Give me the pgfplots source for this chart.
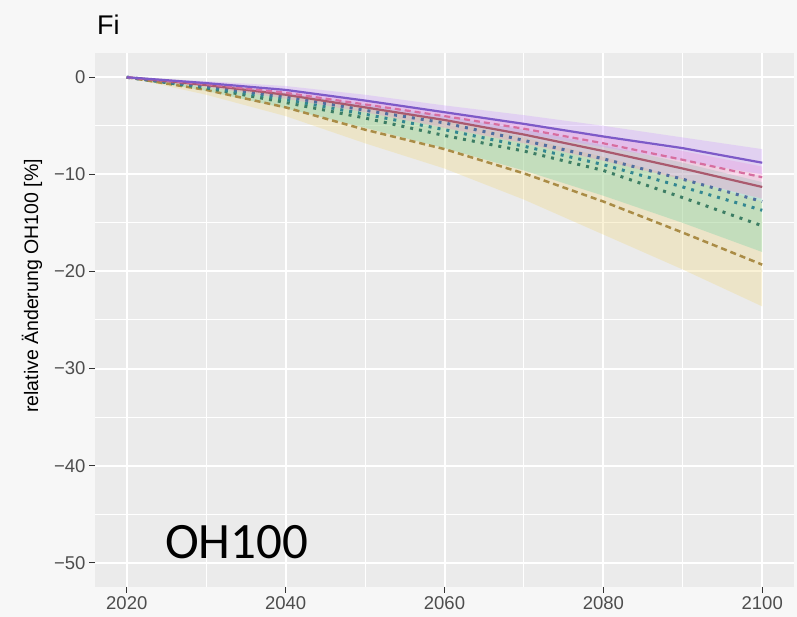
\documentclass[border=0pt]{standalone}
\usepackage{fontspec}
\setmainfont{Liberation Sans}
\newfontfamily\calib{Carlito}
\usepackage{pgfplots}
\pgfplotsset{compat=1.18}
\definecolor{bgcol}{HTML}{F7F7F7}
\definecolor{panel}{HTML}{EBEBEB}
\definecolor{grey30}{HTML}{4D4D4D}
\definecolor{grey20}{HTML}{333333}
\definecolor{cPurple}{RGB}{125,90,200}
\definecolor{cPink}{RGB}{215,110,160}
\definecolor{cRed}{RGB}{170,90,110}
\definecolor{cBlue}{RGB}{80,110,160}
\definecolor{cTeal}{RGB}{50,135,145}
\definecolor{cGreen}{RGB}{60,125,100}
\definecolor{cGold}{RGB}{170,140,70}
\definecolor{fPurple}{RGB}{205,150,255}
\definecolor{fPink}{RGB}{250,140,205}
\definecolor{fGreen}{RGB}{90,205,160}
\definecolor{fYellow}{RGB}{240,215,120}
\begin{document}
\begin{tikzpicture}
\fill[bgcol] (0,0) rectangle (797pt,-617pt);
\path[use as bounding box] (0,0) rectangle (797pt,-617pt);
\begin{axis}[
  at={(95pt,-53pt)}, anchor=north west,
  scale only axis, width=699pt, height=534pt,
  xmin=2016, xmax=2104, ymin=-52.5, ymax=2.5,
  axis background/.style={fill=panel},
  axis line style={draw=none},
  xtick={2020,2040,2060,2080,2100},
  xticklabels={2020,2040,2060,2080,2100},
  ytick={-50,-40,-30,-20,-10,0},
  yticklabels={−50,−40,−30,−20,−10,0},
  minor tick num=1,
  grid=both,
  major grid style={white, line width=2pt},
  minor grid style={white, line width=1pt},
  tick align=outside,
  major tick length=6pt, minor tick length=0pt,
  major tick style={draw=grey20, line width=1.3pt},
  xtick pos=bottom, ytick pos=left,
  ticklabel style={font=\fontsize{18.5}{20}\selectfont, text=grey30},
  clip=false,
]
% ribbons
\addplot[draw=none, fill=fYellow, fill opacity=0.3] coordinates {
 (2020,0) (2030,-0.6) (2040,-1.6) (2050,-3.0) (2060,-4.5) (2070,-6.2) (2080,-8.2) (2090,-10.4) (2100,-12.8)
 (2100,-23.6) (2090,-19.8) (2080,-16.2) (2070,-12.6) (2060,-9.4) (2050,-6.8) (2040,-4.0) (2030,-1.8) (2020,0)} -- cycle;
\addplot[draw=none, fill=fGreen, fill opacity=0.28] coordinates {
 (2020,0) (2030,-0.7) (2040,-1.6) (2050,-2.8) (2060,-4.0) (2070,-5.4) (2080,-7.0) (2090,-8.8) (2100,-10.8)
 (2100,-18.0) (2090,-15.0) (2080,-12.2) (2070,-9.6) (2060,-7.3) (2050,-5.2) (2040,-3.2) (2030,-1.4) (2020,0)} -- cycle;
\addplot[draw=none, fill=fPink, fill opacity=0.3] coordinates {
 (2020,0) (2030,-0.6) (2040,-1.4) (2050,-2.4) (2060,-3.5) (2070,-4.7) (2080,-6.0) (2090,-7.6) (2100,-9.2)
 (2100,-12.5) (2090,-10.5) (2080,-8.6) (2070,-6.8) (2060,-5.2) (2050,-3.6) (2040,-2.2) (2030,-1.0) (2020,0)} -- cycle;
\addplot[draw=none, fill=fPurple, fill opacity=0.3] coordinates {
 (2020,0) (2030,-0.4) (2040,-0.9) (2050,-1.8) (2060,-2.9) (2070,-3.9) (2080,-5.0) (2090,-6.2) (2100,-7.4)
 (2100,-10.0) (2090,-8.6) (2080,-7.2) (2070,-5.8) (2060,-4.4) (2050,-3.0) (2040,-1.8) (2030,-0.8) (2020,0)} -- cycle;
% lines
\addplot[cGold, line width=2.5pt, dash pattern=on 6pt off 4pt] coordinates {
 (2020,0) (2030,-1.3) (2040,-3.1) (2050,-5.4) (2060,-7.4) (2070,-9.9) (2080,-12.8) (2090,-16.0) (2100,-19.3)};
\addplot[cGreen, line width=3pt, dash pattern=on 3pt off 6pt] coordinates {
 (2020,0) (2030,-1.1) (2040,-2.6) (2050,-4.2) (2060,-6.0) (2070,-7.6) (2080,-9.6) (2090,-12.4) (2100,-15.3)};
\addplot[cTeal, line width=3pt, dash pattern=on 3pt off 6pt] coordinates {
 (2020,0) (2030,-1.0) (2040,-2.3) (2050,-3.8) (2060,-5.4) (2070,-7.1) (2080,-9.0) (2090,-11.3) (2100,-13.7)};
\addplot[cBlue, line width=3pt, dash pattern=on 3pt off 6pt] coordinates {
 (2020,0) (2030,-0.9) (2040,-2.0) (2050,-3.4) (2060,-4.7) (2070,-6.5) (2080,-8.4) (2090,-10.5) (2100,-12.8)};
\addplot[cRed, line width=2.2pt] coordinates {
 (2020,0) (2030,-0.8) (2040,-1.8) (2050,-3.1) (2060,-4.4) (2070,-5.9) (2080,-7.6) (2090,-9.4) (2100,-11.3)};
\addplot[cPink, line width=2.2pt, dash pattern=on 6pt off 4pt] coordinates {
 (2020,0) (2030,-0.7) (2040,-1.6) (2050,-2.8) (2060,-4.0) (2070,-5.3) (2080,-6.8) (2090,-8.5) (2100,-10.3)};
\addplot[cPurple, line width=2.2pt] coordinates {
 (2020,0) (2030,-0.6) (2040,-1.3) (2050,-2.4) (2060,-3.6) (2070,-4.8) (2080,-6.1) (2090,-7.3) (2100,-8.8)};
% axis tick marks (ggplot style)
\pgfplotsinvokeforeach{2020,2040,2060,2080,2100}{
  \draw[grey20, line width=1.3pt] (axis cs:#1,-52.5) -- ++(0pt,-6pt);}
\pgfplotsinvokeforeach{-50,-40,-30,-20,-10,0}{
  \draw[grey20, line width=1.3pt] (axis cs:2016,#1) -- ++(-6pt,0pt);}
\end{axis}
\node[anchor=base west, inner sep=0pt, font=\fontsize{27}{30}\selectfont] at (97pt,-35pt) {Fi};
\node[rotate=90, anchor=base, inner sep=0pt, font=\fontsize{19.5}{22}\selectfont] at (38pt,-286pt) {relative Änderung OH100 [\%]};
\node[anchor=base west, inner sep=0pt, font=\calib\fontsize{51}{55}\selectfont] at (165pt,-558pt) {OH100};
\end{tikzpicture}
\end{document}
